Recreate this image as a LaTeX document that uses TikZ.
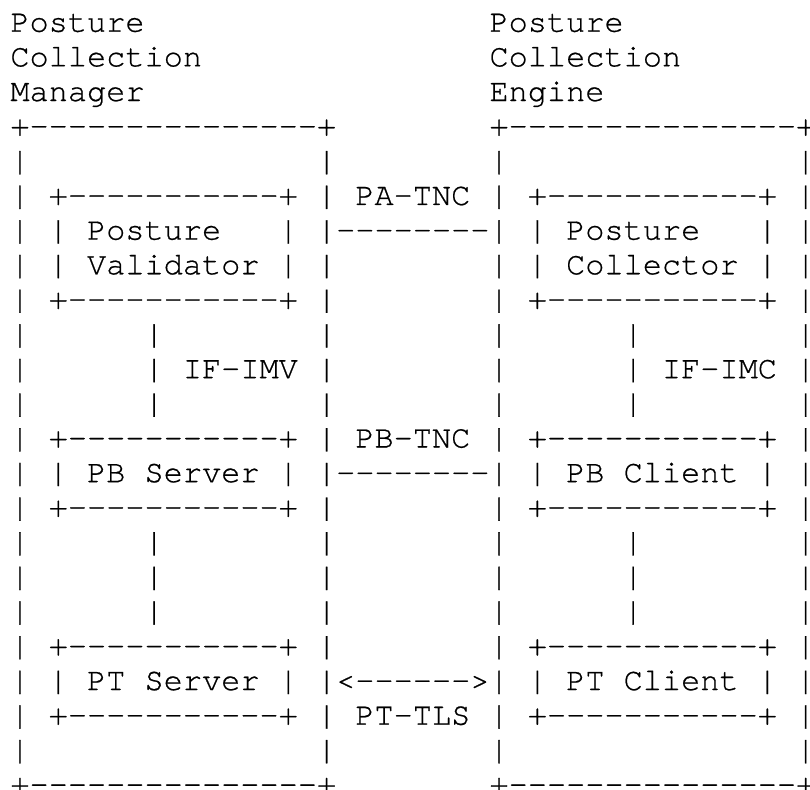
\documentclass[tikz,border=0pt]{standalone}
\usepackage{fontspec}
\setmonofont[FakeBold=0.6]{texgyrecursor-regular.otf}
\usetikzlibrary{positioning}

\begin{document}
\begin{tikzpicture}[
    x=0.5pt, y=-0.5pt,
    row/.style={anchor=base west, inner sep=0pt, outer sep=0pt,
      font=\ttfamily\fontsize{15.97}{18}\selectfont} % one line of the figure
    ]
\useasboundingbox (0,0) rectangle (810,789);
\node[row] (r1) at (10.4,31.7) {Posture~~~~~~~~~~~~~~~~~~Posture};
\node[row] (r2) at (10.4,66.35) {Collection~~~~~~~~~~~~~~~Collection};
\node[row] (r3) at (10.4,101) {Manager~~~~~~~~~~~~~~~~~~Engine};
\node[row] (r4) at (10.4,135.65) {+---------------+~~~~~~~~+---------------+};
\node[row] (r5) at (10.4,170.3) {|~~~~~~~~~~~~~~~|~~~~~~~~|~~~~~~~~~~~~~~~|};
\node[row] (r6) at (10.4,204.95) {|~+-----------+~|~PA-TNC~|~+-----------+~|};
\node[row] (r7) at (10.4,239.6) {|~|~Posture~~~|~|--------|~|~Posture~~~|~|};
\node[row] (r8) at (10.4,274.25) {|~|~Validator~|~|~~~~~~~~|~|~Collector~|~|};
\node[row] (r9) at (10.4,308.9) {|~+-----------+~|~~~~~~~~|~+-----------+~|};
\node[row] (r10) at (10.4,343.55) {|~~~~~~|~~~~~~~~|~~~~~~~~|~~~~~~|~~~~~~~~|};
\node[row] (r11) at (10.4,378.2) {|~~~~~~|~IF-IMV~|~~~~~~~~|~~~~~~|~IF-IMC~|};
\node[row] (r12) at (10.4,412.85) {|~~~~~~|~~~~~~~~|~~~~~~~~|~~~~~~|~~~~~~~~|};
\node[row] (r13) at (10.4,447.5) {|~+-----------+~|~PB-TNC~|~+-----------+~|};
\node[row] (r14) at (10.4,482.15) {|~|~PB~Server~|~|--------|~|~PB~Client~|~|};
\node[row] (r15) at (10.4,516.8) {|~+-----------+~|~~~~~~~~|~+-----------+~|};
\node[row] (r16) at (10.4,551.45) {|~~~~~~|~~~~~~~~|~~~~~~~~|~~~~~~|~~~~~~~~|};
\node[row] (r17) at (10.4,586.1) {|~~~~~~|~~~~~~~~|~~~~~~~~|~~~~~~|~~~~~~~~|};
\node[row] (r18) at (10.4,620.75) {|~~~~~~|~~~~~~~~|~~~~~~~~|~~~~~~|~~~~~~~~|};
\node[row] (r19) at (10.4,655.4) {|~+-----------+~|~~~~~~~~|~+-----------+~|};
\node[row] (r20) at (10.4,690.05) {|~|~PT~Server~|~|<------>|~|~PT~Client~|~|};
\node[row] (r21) at (10.4,724.7) {|~+-----------+~|~PT-TLS~|~+-----------+~|};
\node[row] (r22) at (10.4,759.35) {|~~~~~~~~~~~~~~~|~~~~~~~~|~~~~~~~~~~~~~~~|};
\node[row] (r23) at (10.4,794) {+---------------+~~~~~~~~+---------------+};
\end{tikzpicture}
\end{document}
